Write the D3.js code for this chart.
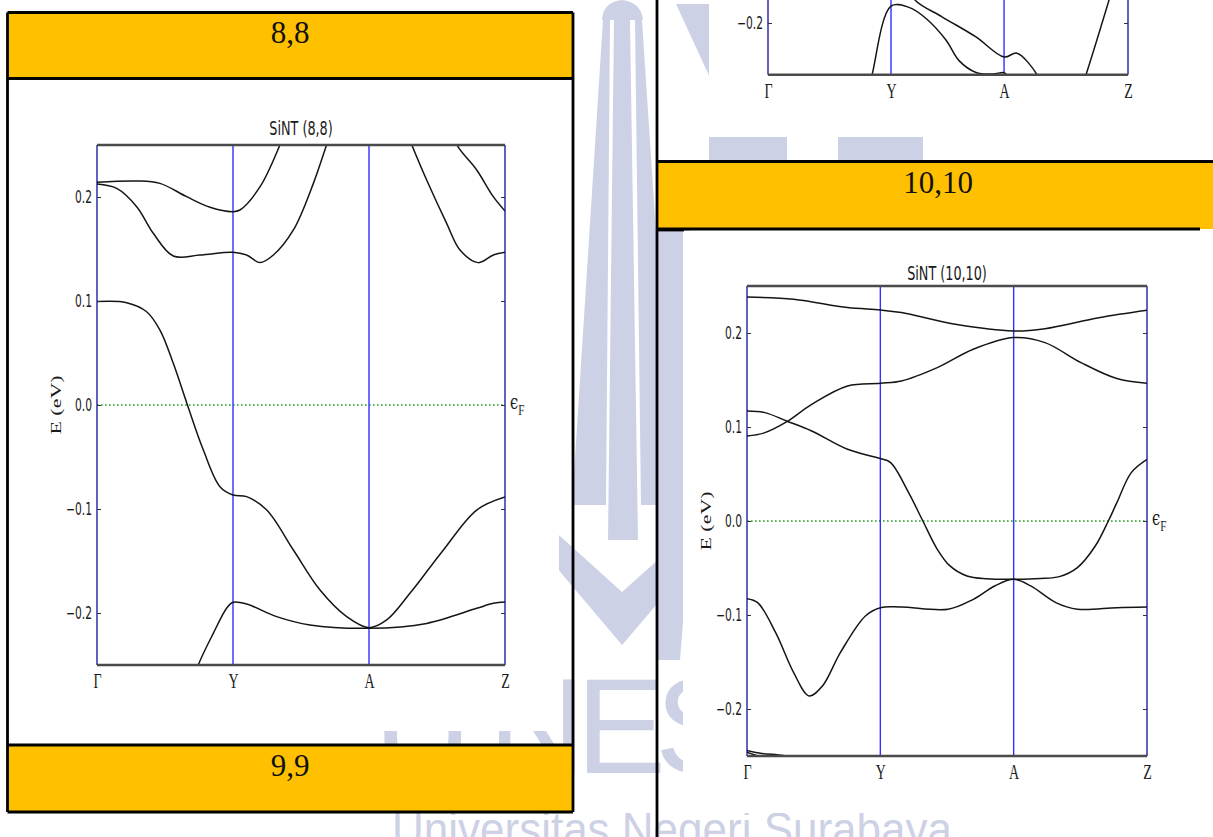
<!DOCTYPE html>
<html><head><meta charset="utf-8">
<script src="https://cdn.jsdelivr.net/npm/d3@7"></script>
<style>
html,body{margin:0;padding:0;background:#fff;overflow:hidden;}
svg{display:block;}
</style></head><body>
<svg id="page" width="1213" height="837"></svg>
<script>
// ---------------- DATA ----------------
const kLabels = ["Γ", "Y", "A", "Z"];
const yTicks = [-0.2, -0.1, 0.0, 0.1, 0.2];
const energyDomain = [-0.25, 0.25];
const kDomain = [0, 3];

const kTicks88 = [0, 1, 2, 3];
const kTicks99 = [0, 1.025, 1.967, 3];
const kTicks1010 = [0, 1, 2, 3];

// SiNT (8,8) bands: [k, E(eV)]
const band88_1 = [[0,0.2141],[0.292,0.2154],[0.463,0.2131],[0.659,0.2003],[0.831,0.1901],[1.0,0.1859],[1.051,0.1875],[1.199,0.2099],[1.346,0.2503],[1.42,0.275]];
const band88_1z = [[2.58,0.275],[2.645,0.2503],[2.792,0.226],[2.914,0.2003],[3.0,0.1865]];
const band88_2 = [[0,0.2125],[0.145,0.2083],[0.292,0.1907],[0.414,0.1651],[0.561,0.1433],[0.757,0.1442],[1.0,0.1468],[1.1,0.1442],[1.199,0.1369],[1.297,0.1442],[1.444,0.1683],[1.591,0.2131],[1.689,0.2503],[1.73,0.265]];
const band88_2z = [[2.27,0.265],[2.314,0.2503],[2.424,0.2163],[2.571,0.1747],[2.669,0.149],[2.804,0.1369],[2.914,0.1442],[3.0,0.1468]];
const band88_3 = [[0,0.0994],[0.218,0.0984],[0.365,0.0897],[0.463,0.0721],[0.561,0.0401],[0.665,0.0],[0.782,-0.0433],[0.904,-0.0785],[1.0,-0.0865],[1.1,-0.0881],[1.248,-0.101],[1.444,-0.1394],[1.64,-0.1779],[1.836,-0.2035],[2.0,-0.2141],[2.13,-0.2067],[2.301,-0.1811],[2.547,-0.1394],[2.792,-0.101],[3.0,-0.0885]];
const band88_4 = [[0.72,-0.262],[0.745,-0.25],[0.855,-0.2196],[0.953,-0.1955],[1.0,-0.1897],[1.1,-0.1913],[1.321,-0.2035],[1.566,-0.2115],[2.0,-0.2147],[2.424,-0.21],[2.792,-0.1955],[2.914,-0.1907],[3.0,-0.1894]];

// SiNT (9,9) bands (only the bottom of this plot is visible)
const band99_1 = [[0.84,-0.26],[0.867,-0.25],[1.025,-0.1836],[1.175,-0.1849],[1.317,-0.1956],[1.483,-0.2164],[1.592,-0.2364],[1.733,-0.2478],[1.875,-0.2493],[1.967,-0.248],[2.0,-0.252]];
const band99_2 = [[1.15,-0.16],[1.225,-0.1778],[1.45,-0.194],[1.733,-0.2135],[1.967,-0.2329],[2.075,-0.2292],[2.242,-0.25],[2.26,-0.256]];
const band99_3 = [[2.62,-0.26],[2.65,-0.25],[2.842,-0.1778],[2.9,-0.155]];

// SiNT (10,10) bands
const band1010_1 = [[0,0.2383],[0.35,0.2359],[0.754,0.227],[1.0,0.2245],[1.158,0.2217],[1.562,0.2093],[2.0,0.2022],[2.235,0.2046],[2.639,0.2163],[3.0,0.2242]];
const band1010_2 = [[0,0.0905],[0.134,0.094],[0.296,0.1054],[0.485,0.1241],[0.754,0.1437],[1.0,0.1465],[1.158,0.149],[1.427,0.1632],[1.697,0.1827],[2.0,0.1951],[2.235,0.1898],[2.505,0.1685],[2.774,0.1515],[3.0,0.1465]];
const band1010_3 = [[0,0.117],[0.134,0.1153],[0.296,0.1064],[0.485,0.0958],[0.754,0.0763],[1.0,0.0664],[1.077,0.0621],[1.212,0.0302],[1.319,0.0],[1.427,-0.0301],[1.52,-0.0475],[1.65,-0.0585],[1.8,-0.0615],[2.0,-0.062],[2.2,-0.0612],[2.343,-0.0592],[2.478,-0.0496],[2.612,-0.0266],[2.71,0.0],[2.774,0.0195],[2.882,0.0515],[3.0,0.0656]];
const band1010_4 = [[0,-0.0826],[0.08,-0.0868],[0.215,-0.1188],[0.35,-0.1613],[0.466,-0.1861],[0.566,-0.1755],[0.7,-0.14],[0.888,-0.101],[1.0,-0.0922],[1.158,-0.0915],[1.508,-0.0939],[1.697,-0.0833],[1.858,-0.0691],[2.0,-0.062],[2.128,-0.0691],[2.316,-0.0868],[2.478,-0.0939],[2.774,-0.0922],[3.0,-0.0915]];
const band1010_5 = [[0,-0.244],[0.1,-0.247],[0.27,-0.2495],[0.35,-0.252]];
const band1010_6 = [[0,-0.246],[0.06,-0.249],[0.12,-0.252]];

const headerLabels = ["8,8", "9,9", "10,10"];
const plotTitles = ["SiNT (8,8)", "SiNT (9,9)", "SiNT (10,10)"];

// ---------------- DRAWING ----------------
const svg = d3.select("#page");
const defs = svg.append("defs");
svg.append("rect").attr("width",1213).attr("height",837).attr("fill","#fff");

// ---- watermark (UNESA logo, faint) ----
const wm = svg.append("g").attr("fill","#cdd1e5");
wm.append("path").attr("d","M602,20 Q603,2 622,0 Q641,2 643,20 Z");
wm.append("path").attr("d","M603,20 L610,20 L606,505 L572,505 Z");
wm.append("path").attr("d","M614,20 L630,20 L638,540 L608,540 Z");
wm.append("path").attr("d","M635,20 L642,20 L674,505 L641,505 Z");
wm.append("path").attr("d","M540,518 L622,592 L705,518 L705,548 L622,645 L540,548 Z");
wm.append("path").attr("d","M676,4 L712,4 L712,82 Z");
wm.append("path").attr("d","M657,230 L690,230 Q700,420 680,660 L657,660 Z");
wm.append("rect").attr("x",709).attr("y",136).attr("width",78).attr("height",26);
wm.append("rect").attr("x",838).attr("y",136).attr("width",85).attr("height",26);
wm.append("text").attr("font-family","Liberation Sans").attr("font-size",135)
  .attr("y",773).attr("x","374 488 576 655 750").text("UNESA");
wm.append("text").attr("font-family","Liberation Sans").attr("font-size",48)
  .attr("x",392).attr("y",846).attr("textLength",560).attr("lengthAdjust","spacingAndGlyphs")
  .text("Universitas Negeri Surabaya");

// ---- white plot images covering the watermark ----
const imgs = [[8,79,551,652],[709,0,504,137],[683,231,530,582]];
svg.selectAll("rect.img").data(imgs).join("rect").attr("class","img")
  .attr("x",d=>d[0]).attr("y",d=>d[1]).attr("width",d=>d[2]).attr("height",d=>d[3]).attr("fill","#fff");

// ---- document table: yellow headers and borders ----
const gold = "#FFC000";
svg.append("rect").attr("x",7.5).attr("y",12.5).attr("width",565.5).attr("height",66).attr("fill",gold);
svg.append("rect").attr("x",7.5).attr("y",745).attr("width",565.5).attr("height",67).attr("fill",gold);
svg.append("rect").attr("x",657).attr("y",161.5).attr("width",556).attr("height",67.5).attr("fill",gold);
const bl = [
  [7.5,12.5,573,12.5],[7.5,78.5,573,78.5],[7.5,745,573,745],[7.5,812,573,812],
  [7.5,12.5,7.5,812],[573,12.5,573,812],
  [657,0,657,837],[657,161.5,1213,161.5],[657,229,1200,229],[657,230,684,230]
];
svg.selectAll("line.border").data(bl).join("line").attr("class","border")
  .attr("x1",d=>d[0]).attr("y1",d=>d[1]).attr("x2",d=>d[2]).attr("y2",d=>d[3])
  .attr("stroke","#000").attr("stroke-width",2.8);

const hdr = [[290,43,headerLabels[0]],[290,776,headerLabels[1]],[938,193,headerLabels[2]]];
svg.selectAll("text.hdr").data(hdr).join("text").attr("class","hdr")
  .attr("x",d=>d[0]).attr("y",d=>d[1]).attr("text-anchor","middle")
  .attr("font-family","Liberation Serif").attr("font-size",31).attr("fill","#111").text(d=>d[2]);

// ---- band structure plots ----
const SX = 0.63;
function drawPlot(cfg) {
  const g = svg.append("g");
  const x = d3.scaleLinear().domain(kDomain).range([cfg.x0, cfg.x1]);
  const y = d3.scaleLinear().domain(energyDomain).range([cfg.yBot, cfg.yTop]);
  defs.append("clipPath").attr("id", cfg.id).append("rect")
    .attr("x", cfg.x0).attr("y", cfg.yTop).attr("width", cfg.x1 - cfg.x0).attr("height", cfg.yBot - cfg.yTop);

  g.append("line").attr("x1", x(0)).attr("x2", x(3)).attr("y1", y(0)).attr("y2", y(0))
    .attr("stroke", "#22a022").attr("stroke-width", 1.7).attr("stroke-dasharray", "1.6,2.4");

  g.selectAll("line.kl").data(cfg.kTicks).join("line").attr("class","kl")
    .attr("x1", d => x(d)).attr("x2", d => x(d)).attr("y1", cfg.yTop).attr("y2", cfg.yBot)
    .attr("stroke", (d,i) => (i === 0 || i === cfg.kTicks.length - 1) ? "#3a3ab0" : "#3030ff")
    .attr("stroke-width", (d,i) => (i === 0 || i === cfg.kTicks.length - 1) ? 1.6 : 1.4);

  const line = d3.line().x(d => x(d[0])).y(d => y(d[1])).curve(d3.curveCatmullRom.alpha(0.5));
  g.append("g").attr("clip-path", `url(#${cfg.id})`)
    .selectAll("path").data(cfg.bands).join("path")
    .attr("d", line).attr("fill", "none").attr("stroke", "#151515").attr("stroke-width", 1.5);

  g.append("line").attr("x1", cfg.x0).attr("x2", cfg.x1).attr("y1", cfg.yTop).attr("y2", cfg.yTop)
    .attr("stroke", "#4a4a4a").attr("stroke-width", 2.5);
  g.append("line").attr("x1", cfg.x0).attr("x2", cfg.x1).attr("y1", cfg.yBot).attr("y2", cfg.yBot)
    .attr("stroke", "#4a4a4a").attr("stroke-width", 2.5);

  const la = g.append("g").attr("transform", `translate(${cfg.x0},0)`)
    .call(d3.axisLeft(y).tickValues(yTicks).tickSizeInner(-4).tickSizeOuter(0).tickPadding(8).tickFormat(d3.format(".1f")));
  la.select(".domain").remove();
  la.selectAll(".tick line").attr("stroke", "#333");
  la.selectAll("text").attr("font-family", "DejaVu Sans").attr("font-size", 17)
    .attr("fill", "#1a1a1a").attr("transform", `scale(${SX},1)`);

  const ra = g.append("g").attr("transform", `translate(${cfg.x1},0)`)
    .call(d3.axisRight(y).tickValues(yTicks).tickSizeInner(-4).tickSizeOuter(0).tickFormat(""));
  ra.select(".domain").remove();
  ra.selectAll(".tick line").attr("stroke", "#333");

  const ba = g.append("g").attr("transform", `translate(0,${cfg.yBot})`)
    .call(d3.axisBottom(x).tickValues(cfg.kTicks).tickSizeInner(0).tickSizeOuter(0).tickPadding(9)
      .tickFormat((d, i) => kLabels[i]));
  ba.select(".domain").remove();
  ba.selectAll("text").attr("font-family", "Liberation Serif").attr("font-size", 20)
    .attr("fill", "#1a1a1a").attr("transform", `scale(${SX + 0.07},1)`);

  g.append("text").attr("transform", `translate(${(cfg.x0 + cfg.x1) / 2},${cfg.yTop - cfg.titleGap}) scale(${SX + 0.01},1)`)
    .attr("text-anchor", "middle").attr("font-family", "DejaVu Sans").attr("font-size", 20)
    .attr("fill", "#1a1a1a").text(cfg.title);

  g.append("text").attr("transform", `translate(${cfg.x0 - 36},${y(0)}) scale(${SX},1) rotate(-90)`)
    .attr("text-anchor", "middle").attr("font-family", "Liberation Serif").attr("font-size", 22)
    .attr("fill", "#1a1a1a").text("E (eV)");

  const ef = g.append("text").attr("transform", `translate(${cfg.x1 + 5},${y(0) + 4}) scale(${SX + 0.1},1)`)
    .attr("font-family", "DejaVu Serif").attr("fill", "#1a1a1a");
  ef.append("tspan").attr("font-size", 20).text("ϵ");
  ef.append("tspan").attr("font-size", 15).attr("dy", 6).attr("font-family", "Liberation Serif").text("F");
}

drawPlot({ id: "c88", x0: 97, x1: 505, yTop: 145, yBot: 665, titleGap: 10,
  kTicks: kTicks88, title: plotTitles[0],
  bands: [band88_1, band88_1z, band88_2, band88_2z, band88_3, band88_4] });
drawPlot({ id: "c99", x0: 768, x1: 1128, yTop: 74.7 - 517, yBot: 74.7, titleGap: 10,
  kTicks: kTicks99, title: plotTitles[1],
  bands: [band99_1, band99_2, band99_3] });
drawPlot({ id: "c1010", x0: 747, x1: 1147, yTop: 286, yBot: 756, titleGap: 6,
  kTicks: kTicks1010, title: plotTitles[2],
  bands: [band1010_1, band1010_2, band1010_3, band1010_4, band1010_5, band1010_6] });
</script></body></html>
